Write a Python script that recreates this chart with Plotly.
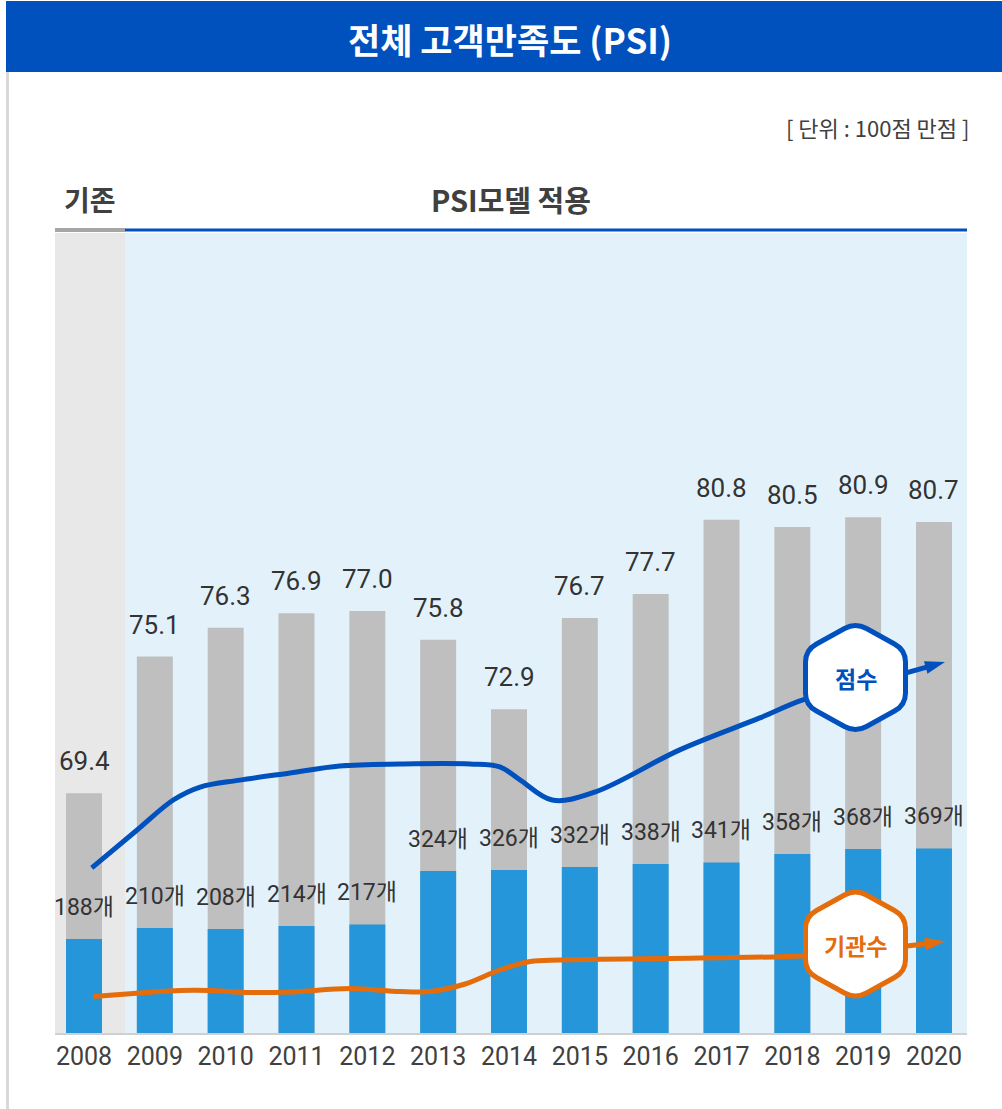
import plotly.graph_objects as go

# ---- data -------------------------------------------------------------
years = list(range(2008, 2021))
year_labels = [str(y) for y in years]
scores = [69.4, 75.1, 76.3, 76.9, 77.0, 75.8, 72.9, 76.7, 77.7, 80.8, 80.5, 80.9, 80.7]
agencies = [188, 210, 208, 214, 217, 324, 326, 332, 338, 341, 358, 368, 369]

# smoothed trend of the score (score axis units)
score_trend_x = [2008.11, 2008.75, 2009.26, 2009.64, 2010.20, 2010.91, 2011.61,
                 2012.46, 2013.45, 2013.87, 2014.16, 2014.61, 2015.21, 2016.41,
                 2017.54, 2018.15, 2018.89]
score_trend_y = [66.29, 67.87, 69.12, 69.66, 69.95, 70.25, 70.54,
                 70.62, 70.62, 70.50, 69.95, 69.12, 69.45, 71.21,
                 72.54, 73.29, 73.83]
score_arrow_x = [2018.89, 2020.155]
score_arrow_y = [73.83, 74.87]

# smoothed trend of the number of agencies (count axis units)
count_trend_x = [2008.13, 2008.79, 2009.36, 2009.78, 2010.34, 2010.91, 2011.76,
                 2012.46, 2012.89, 2013.38, 2013.87, 2014.30, 2014.72, 2016.70,
                 2018.15, 2018.89]
count_trend_y = [73, 80, 85, 85, 81, 82, 89,
                 83, 83, 98, 126, 143, 146, 150,
                 154, 162]
count_arrow_x = [2018.89, 2020.155]
count_arrow_y = [162, 183]

# ---- styling ----------------------------------------------------------
W, H = 1002, 1109
L, R, T, B = 55, 967, 233, 1033          # plot area in pixels
X_RANGE = [2007.5906, 2020.466]
SCORE_RANGE = [59.4125, 92.746]
COUNT_RANGE = [0, 1600]
ERA_SPLIT = 2008.579

NAVY = "#0050BE"
ORANGE = "#E46C0A"
BAR_GRAY = "#BFBFBF"
BAR_BLUE = "#2696DA"
TEXT = "#333333"
FONT_NUM = "Roboto, 'Noto Sans CJK KR', sans-serif"
FONT_KR = "'Noto Sans CJK KR', sans-serif"


def px(x):
    return (x - L) / (R - L)


def py(y):
    return (B - y) / (B - T)


def hexagon_path(cx, cy, rx=50, ry=55, t=0.22):
    verts = [(cx, cy - ry), (cx + rx, cy - ry / 2), (cx + rx, cy + ry / 2),
             (cx, cy + ry), (cx - rx, cy + ry / 2), (cx - rx, cy - ry / 2)]
    n = len(verts)
    parts = []
    for i, (vx, vy) in enumerate(verts):
        pxv, pyv = verts[i - 1]
        nxv, nyv = verts[(i + 1) % n]
        ax, ay = vx + (pxv - vx) * t, vy + (pyv - vy) * t
        bx, by = vx + (nxv - vx) * t, vy + (nyv - vy) * t
        parts.append(("M" if i == 0 else "L") + f"{px(ax):.5f},{py(ay):.5f}")
        parts.append(f"Q{px(vx):.5f},{py(vy):.5f} {px(bx):.5f},{py(by):.5f}")
    return " ".join(parts) + " Z"


def text_at(x, y, text, size, color, family=FONT_KR, xanchor="center"):
    return dict(xref="paper", yref="paper", x=px(x), y=py(y), text=text,
                xanchor=xanchor, yanchor="middle", showarrow=False,
                font=dict(family=family, size=size, color=color))


fig = go.Figure()

fig.add_trace(go.Bar(x=years, y=scores, width=0.508, marker_color=BAR_GRAY,
                     marker_line_width=0, yaxis="y", hoverinfo="skip"))
fig.add_trace(go.Bar(x=years, y=agencies, width=0.508, marker_color=BAR_BLUE,
                     marker_line_width=0, yaxis="y2", hoverinfo="skip"))

# trend lines with arrow heads
fig.add_trace(go.Scatter(x=count_trend_x, y=count_trend_y, mode="lines",
                         line=dict(color=ORANGE, width=5, shape="spline", smoothing=1.0),
                         yaxis="y2", hoverinfo="skip"))
fig.add_trace(go.Scatter(x=count_arrow_x, y=count_arrow_y, mode="lines+markers",
                         line=dict(color=ORANGE, width=5),
                         marker=dict(size=[0, 21], symbol="arrow", angleref="previous",
                                     color=ORANGE, opacity=1, line_width=0),
                         yaxis="y2", hoverinfo="skip"))
fig.add_trace(go.Scatter(x=score_trend_x, y=score_trend_y, mode="lines",
                         line=dict(color=NAVY, width=5, shape="spline", smoothing=1.0),
                         yaxis="y3", hoverinfo="skip"))
fig.add_trace(go.Scatter(x=score_arrow_x, y=score_arrow_y, mode="lines+markers",
                         line=dict(color=NAVY, width=5),
                         marker=dict(size=[0, 21], symbol="arrow", angleref="previous",
                                     color=NAVY, opacity=1, line_width=0),
                         yaxis="y3", hoverinfo="skip"))

shapes = [
    # era backgrounds
    dict(type="rect", xref="x", yref="paper", x0=X_RANGE[0], x1=ERA_SPLIT, y0=0, y1=1,
         fillcolor="#E8E8E8", line_width=0, layer="below"),
    dict(type="rect", xref="x", yref="paper", x0=ERA_SPLIT, x1=X_RANGE[1], y0=0, y1=1,
         fillcolor="#E3F2FA", line_width=0, layer="below"),
    # header rules
    dict(type="rect", xref="paper", yref="paper", x0=px(55), x1=px(125), y0=py(232), y1=py(228),
         fillcolor="#A6A6A6", line_width=0),
    dict(type="rect", xref="paper", yref="paper", x0=px(125), x1=px(967), y0=py(231.5), y1=py(228.5),
         fillcolor=NAVY, line_width=0),
    # title bar and frame
    dict(type="rect", xref="paper", yref="paper", x0=px(6), x1=px(1002), y0=py(72), y1=py(1),
         fillcolor=NAVY, line_width=0),
    dict(type="line", xref="paper", yref="paper", x0=px(7.5), x1=px(7.5), y0=py(72), y1=py(1109),
         line=dict(color="#D9D9D9", width=3)),
    # badges
    dict(type="path", xref="paper", yref="paper", path=hexagon_path(855.5, 677.5),
         fillcolor="white", line=dict(color=NAVY, width=5), layer="above"),
    dict(type="path", xref="paper", yref="paper", path=hexagon_path(855.5, 944),
         fillcolor="white", line=dict(color=ORANGE, width=5), layer="above"),
]

annotations = [
    text_at(510, 38, "<b>전체 고객만족도 (PSI)</b>", 35, "white"),
    text_at(971, 127, "[ 단위 : 100점 만점 ]", 22, "#404040", xanchor="right"),
    text_at(90, 199, "<b>기존</b>", 28, "#404040"),
    text_at(511, 199, "<b>PSI모델 적용</b>", 29, "#404040"),
    text_at(855.5, 678, "<b>점수</b>", 23, NAVY),
    text_at(855.5, 945, "<b>기관수</b>", 23, ORANGE),
]

for yr, s in zip(years, scores):
    annotations.append(dict(x=yr, y=s, xref="x", yref="y", text=f"{s:.1f}",
                            showarrow=False, xanchor="center", yanchor="middle", yshift=32,
                            font=dict(family=FONT_NUM, size=26, color=TEXT)))
for yr, c in zip(years, agencies):
    annotations.append(dict(x=yr, y=c, xref="x", yref="y2", text=f"{c}개",
                            showarrow=False, xanchor="center", yanchor="middle", yshift=32,
                            font=dict(family=FONT_NUM, size=23, color=TEXT)))

fig.update_layout(
    width=W, height=H, autosize=False,
    margin=dict(l=L, r=W - R, t=T, b=H - B, pad=0),
    paper_bgcolor="white", plot_bgcolor="rgba(0,0,0,0)",
    showlegend=False, barmode="overlay",
    shapes=shapes, annotations=annotations,
    xaxis=dict(range=X_RANGE, tickvals=years, ticktext=year_labels, ticks="",
               showline=True, linecolor="#D0D0D0", linewidth=2, showgrid=False,
               zeroline=False, tickfont=dict(family=FONT_NUM, size=25, color="#404040"),
               fixedrange=True),
    yaxis=dict(range=SCORE_RANGE, visible=False, fixedrange=True),
    yaxis2=dict(range=COUNT_RANGE, overlaying="y", visible=False, fixedrange=True),
    yaxis3=dict(range=SCORE_RANGE, overlaying="y", visible=False, fixedrange=True),
)

fig.write_html("out.html")
